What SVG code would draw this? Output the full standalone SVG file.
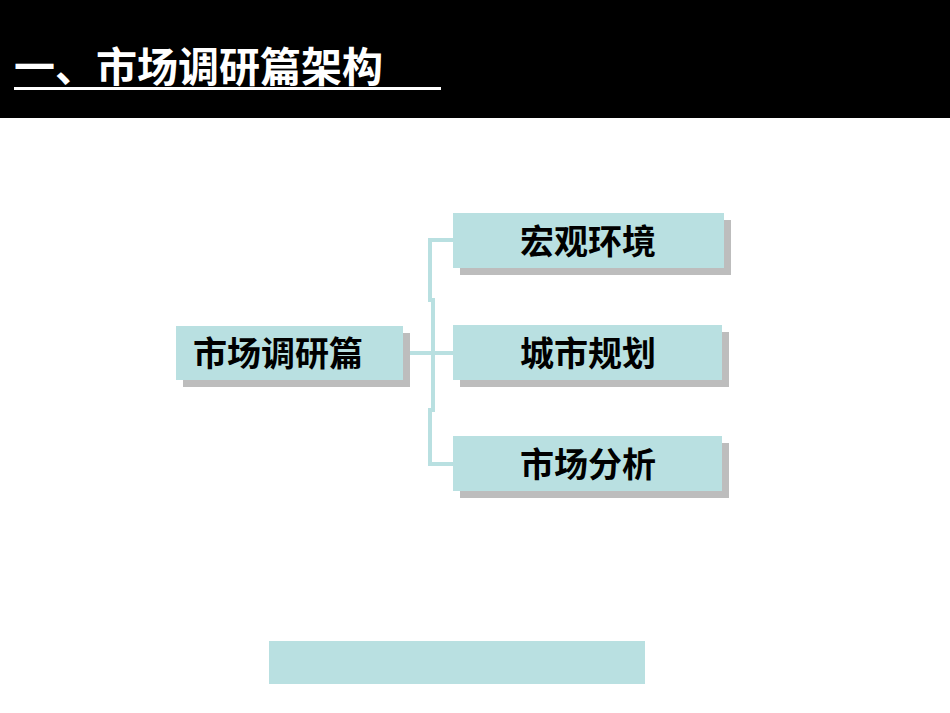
<svg xmlns="http://www.w3.org/2000/svg" width="950" height="713" viewBox="0 0 950 713">
<style>
.box{fill:#b9e0e1}
.sh{fill:#bdbdbd}
.t{font-family:"Liberation Sans","Noto Sans CJK SC",sans-serif;font-weight:bold;font-size:34px;fill:#000;text-anchor:middle}
.c{fill:none;stroke:#b9e0e1;stroke-width:4}
</style>
<rect x="0" y="0" width="950" height="713" fill="#fff"/>
<rect x="0" y="0" width="950" height="118" fill="#000"/>
<text x="14" y="82" font-family="Liberation Sans,'Noto Sans CJK SC',sans-serif" font-weight="bold" font-size="41" fill="#fff">一、市场调研篇架构</text>
<rect x="14" y="87" width="427" height="3" fill="#fff"/>
<g id="connectors">
<path class="c" d="M403 353H453M453 240H430V300H433V410H430V464H453"/>
</g>
<g id="n0"><rect class="sh" x="183" y="333" width="227" height="54"/><rect class="box" x="176" y="326" width="227" height="54"/><text class="t" x="278" y="366">市场调研篇</text></g>
<g id="n1"><rect class="sh" x="460" y="220" width="271" height="55"/><rect class="box" x="453" y="213" width="271" height="55"/><text class="t" x="588" y="254">宏观环境</text></g>
<g id="n2"><rect class="sh" x="460" y="332" width="269" height="55"/><rect class="box" x="453" y="325" width="269" height="55"/><text class="t" x="588" y="366">城市规划</text></g>
<g id="n3"><rect class="sh" x="460" y="443" width="269" height="55"/><rect class="box" x="453" y="436" width="269" height="55"/><text class="t" x="588" y="477">市场分析</text></g>
<g id="n4"><rect class="box" x="269" y="641" width="376" height="43"/></g>
</svg>
